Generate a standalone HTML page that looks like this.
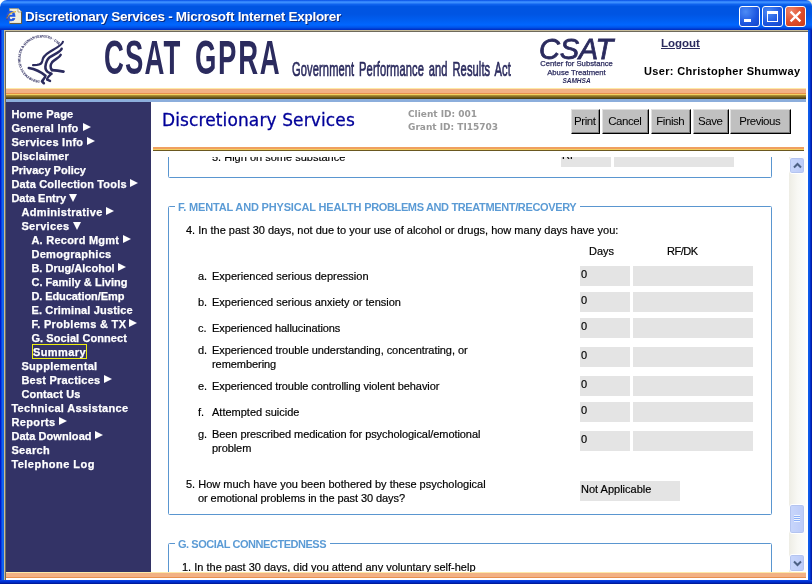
<!DOCTYPE html>
<html><head><meta charset="utf-8"><title>Discretionary Services - Microsoft Internet Explorer</title>
<style>
html,body{margin:0;padding:0}
body{width:812px;height:584px;position:relative;overflow:hidden;background:#fff;font-family:"Liberation Sans",Arial,sans-serif;font-size:11px;color:#000}
div,i,span,a{position:absolute;box-sizing:border-box}
.frame{left:0;top:0;width:812px;height:584px;background:linear-gradient(90deg,#0019cc 0,#0019cc 1px,#0a44e0 1px,#0a44e0 2px,#1466f0 2px,#1060ec 4px,#0a47d8 4px,#0a47d8 808px,#1060ec 808px,#0a50e6 810px,#0030cc 810px,#0030cc 811px,#001eaa 811px)}
.fbot{left:0;top:580px;width:812px;height:4px;background:linear-gradient(#0a3ede 0,#0a3ede 1px,#0032d4 1px,#0032d4 2px,#0028c0 2px,#0028c0 3px,#001a9c 3px)}
.tb{left:0;top:0;width:812px;height:30px;border-radius:7px 6px 0 0;background:linear-gradient(#0047e0 0,#2f80fb 1.2px,#3b8efe 2.5px,#0e62ee 4.5px,#0055e2 6.5px,#0055e3 14px,#005ef0 20px,#0066ff 25px,#0052e8 27.5px,#0034c8 29.3px,#002cc0 30px)}
.cornerL{left:0;top:0;width:8px;height:8px;background:#fff}
.cornerR{right:0;top:0;width:8px;height:8px;background:#f3f0dc}
.title{left:25px;top:8.5px;color:#fff;font-weight:bold;font-size:13.5px;white-space:nowrap;text-shadow:1px 1px 0 #0a2a80;letter-spacing:-0.27px}
.client{left:4px;top:30px;width:804px;height:550px;background:#fff;border-left:1px solid #c8bd9a;border-top:1px solid #c8bd9a}
.client2{left:5px;top:31px;width:803px;height:549px;background:#fff;border-left:1px solid #6f6a5c;border-top:1px solid #6f6a5c}
.wb{top:6px;width:21px;height:21px;border:1px solid #fff;border-radius:3px;background:radial-gradient(circle at 30% 25%,#4d8cf5,#1c56e0 60%,#1445c8)}
.wb.x{background:radial-gradient(circle at 25% 20%,#ee8468,#de4c2a 55%,#c83c18)}
.stripe{left:6px;top:88px;width:800px;height:14px;background:linear-gradient(#fde9a8 0,#fde9a8 1px,#f2b184 1px,#f2b184 5px,#e88f4d 5px,#e88f4d 6px,#f2d060 6px,#f2d060 7px,#b89838 7px,#7a6420 9px,#403410 11px,#8caedc 11px,#8caedc 14px)}
.side{left:6px;top:102px;width:145px;height:470px;background:#333366}
.ni{color:#fff;font-weight:bold;font-size:11px;line-height:14px;white-space:nowrap;letter-spacing:0.12px;-webkit-text-stroke:0.25px #fff}
.selbox{border:1px solid #eeee10}
.ar{width:0;height:0;border-left:8.5px solid #fff;border-top:4.5px solid transparent;border-bottom:4.5px solid transparent;margin-top:-1px}
.ad{width:0;height:0;border-top:8px solid #fff;border-left:4.2px solid transparent;border-right:4.2px solid transparent;margin:-1px 0 0 -0.3px}
.h1{left:162px;top:110.3px;letter-spacing:0.12px;-webkit-text-stroke:0.3px #000099;font-family:"DejaVu Sans","Liberation Sans",sans-serif;font-size:17px;color:#000099;white-space:nowrap}
.ids{left:408px;font-family:"DejaVu Sans","Liberation Sans",sans-serif;font-weight:bold;font-size:9px;color:#999;white-space:nowrap}
.btn{top:109px;height:25px;background:#c0c0c0;border:1px solid;border-color:#e0e0e0 #000 #000 #e0e0e0;box-shadow:inset -1px -1px 0 #808080;font-size:11.5px;letter-spacing:-0.45px;text-align:center;line-height:22px;white-space:nowrap;padding-right:1.5px}
.stripe2{left:153px;top:147px;width:651px;height:4px;background:linear-gradient(#f0a060 0,#f0a060 2px,#f2d060 2px,#f2d060 3px,#6a5820 3px,#6a5820 4px)}
.view{left:153px;top:157px;width:636px;height:415px;overflow:hidden;background:#fff}
.fs{border:1px solid #5a96d0;border-radius:1.5px}
.lg{color:#5b9bd5;font-weight:bold;font-size:11px;background:#fff;padding:0 4px 0 3px;white-space:nowrap;line-height:13px;letter-spacing:-0.26px}
.t{font-size:11px;line-height:14px;white-space:nowrap;-webkit-text-stroke:0.18px #000}
.inp{height:20px;background:#e4e4e4;font-size:11px;line-height:14px;padding:1px 0 0 1px;white-space:nowrap;-webkit-text-stroke:0.18px #000}
.sb{left:789px;top:157px;width:17px;height:415px;background:linear-gradient(90deg,#eeede5,#f8f8f4 50%,#fdfdfb)}
.sbtn{left:0px;width:16px;border:1px solid #fff;border-radius:3px;background:linear-gradient(90deg,#c8d6fb,#bccbf8);box-shadow:0 0 0 1px #b4c4f0 inset}
.bstripe{left:6px;top:572px;width:800px;height:6px;background:linear-gradient(#fde9a8 0,#fde9a8 1px,#f2b184 1px,#f2b184 5px,#e88f4d 5px,#e88f4d 6px)}
</style></head><body>
<div class="frame"></div><div class="fbot"></div>
<div class="cornerL"></div><div class="cornerR"></div>
<div class="tb"></div>
<svg style="position:absolute;left:5px;top:7px" width="19" height="18" viewBox="0 0 19 18"><path d="M4.5 1.5h8.6l3.4 3.4v11.5h-12z" fill="#f1eee0" stroke="#a09878" stroke-width="0.8"/><path d="M16.6 4.6v12h-12" fill="none" stroke="#5e563e" stroke-width="1"/><path d="M13 1.5v3.5h3.5" fill="#fff" stroke="#8a8468" stroke-width=".7"/><text x="1" y="13.6" font-family="Liberation Sans,sans-serif" font-weight="bold" font-size="17.5" fill="#2458e0" stroke="#2458e0" stroke-width="0.5">e</text><path d="M1.6 11.5 Q4 5.2 11 4.6" fill="none" stroke="#e8b838" stroke-width="1.1"/><path d="M2 12.8 Q1.2 10 3.4 7.6" fill="none" stroke="#3a3a80" stroke-width="0.9"/></svg>
<div class="title">Discretionary Services - Microsoft Internet Explorer</div>
<div class="wb" style="left:739px"><i style="position:absolute;left:4px;top:12px;width:7px;height:3px;background:#fff"></i></div>
<div class="wb" style="left:762px"><i style="position:absolute;left:4px;top:4px;width:11px;height:11px;border:1px solid #fff;border-top-width:3px"></i></div>
<div class="wb x" style="left:785px"><svg style="position:absolute;left:3px;top:3px" width="13" height="13" viewBox="0 0 13 13"><path d="M1.6 1.6l9.8 9.8M11.4 1.6l-9.8 9.8" stroke="#fff" stroke-width="2.2" fill="none"/></svg></div>
<div class="client"></div><div class="client2"></div>

<!-- header -->
<svg style="position:absolute;left:10px;top:32px" width="60" height="58" viewBox="0 0 604 584">
<defs><path id="arc" d="M 299 489 A 218 218 0 1 1 520 180"/></defs>
<text font-family="Liberation Serif,serif" font-weight="bold" font-size="35" fill="#2b2b5e" stroke="#2b2b5e" stroke-width="0.8"><textPath href="#arc" textLength="850" lengthAdjust="spacingAndGlyphs">DEPARTMENT OF HEALTH &amp; HUMAN SERVICES · USA</textPath></text>
<g fill="none" stroke="#2b2b5e" stroke-width="30" stroke-linecap="round" stroke-linejoin="round" transform="translate(141,40.3) scale(0.9324)">
<path d="M420 62 C418 95 330 140 272 175 C215 208 202 235 197 270 C192 300 165 310 140 312 L98 314" stroke-width="24"/>
<path d="M406 138 C395 172 320 198 277 230 C245 255 236 290 231 330 C229 360 245 385 275 398 L296 407" stroke-width="28"/>
<path d="M396 204 C385 236 330 250 304 282 C282 312 284 345 302 368" stroke-width="27"/>
<path d="M302 368 C340 370 385 376 426 384" stroke-width="30"/>
<path d="M52 345 C110 355 180 385 232 428 C228 455 200 475 194 490 L214 510" stroke-width="28"/>
<path d="M292 412 C265 435 247 455 250 472 L281 485" stroke-width="26"/>
</g></svg>
<div id="gpra" style="left:104px;top:30px;font-size:48.5px;line-height:54px;color:#2b2b5e;white-space:nowrap;transform-origin:0 0;transform:scaleX(0.567);letter-spacing:2px;font-weight:bold">CSAT</div>
<div id="gpra1" style="left:195px;top:30px;font-size:48.5px;line-height:54px;color:#2b2b5e;white-space:nowrap;transform-origin:0 0;transform:scaleX(0.567);letter-spacing:3px;font-weight:bold">GPRA</div>
<div id="gpra2" style="left:291.5px;top:57px;font-size:21px;line-height:24px;color:#2b2b5e;white-space:nowrap;transform-origin:0 0;transform:scaleX(0.53);word-spacing:3px;-webkit-text-stroke:0.7px #2b2b5e;letter-spacing:0.2px">Government Performance and Results Act</div>
<div id="csat" style="left:539px;top:31.5px;font-size:29px;line-height:34px;font-style:italic;color:#2b2b5e;white-space:nowrap;-webkit-text-stroke:0.8px #2b2b5e;letter-spacing:-0.3px">CSAT</div>
<div id="c1" style="left:539px;top:58.5px;width:75px;text-align:center;font-size:7.7px;line-height:10px;color:#2b2b5e;white-space:nowrap;-webkit-text-stroke:0.25px #2b2b5e;letter-spacing:0"><span id="c1s" style="position:static">Center for Substance</span></div>
<div id="c2" style="left:539px;top:67.5px;width:75px;text-align:center;font-size:7.7px;line-height:10px;color:#2b2b5e;white-space:nowrap;-webkit-text-stroke:0.25px #2b2b5e;letter-spacing:0"><span id="c2s" style="position:static">Abuse Treatment</span></div>
<div id="c3" style="left:539px;top:76px;width:75px;text-align:center;font-size:6.5px;line-height:9px;color:#2b2b5e;white-space:nowrap;font-weight:bold;font-style:italic"><span id="c3s" style="position:static">SAMHSA</span></div>
<a id="logout" style="left:661px;top:36px;font-size:11.5px;line-height:14px;font-weight:bold;color:#2b2b5e;text-decoration:underline;white-space:nowrap">Logout</a>
<div id="user" style="left:644px;top:64px;font-size:11px;line-height:14px;font-weight:bold;white-space:nowrap;letter-spacing:0.34px">User: Christopher Shumway</div>
<div class="stripe"></div>

<!-- sidebar -->
<div class="side"></div>
<div class="ni" style="top:107px;left:11.4px;letter-spacing:0.242px">Home Page</div>
<div class="ni" style="top:121px;left:11.4px;letter-spacing:0.251px">General Info</div><i class="ar" style="left:82.7px;top:124px"></i>
<div class="ni" style="top:135px;left:11.4px;letter-spacing:0.263px">Services Info</div><i class="ar" style="left:87.3px;top:138px"></i>
<div class="ni" style="top:149px;left:11.4px;letter-spacing:0.194px">Disclaimer</div>
<div class="ni" style="top:163px;left:11.4px;letter-spacing:-0.001px">Privacy Policy</div>
<div class="ni" style="top:177px;left:11.4px;letter-spacing:0.174px">Data Collection Tools</div><i class="ar" style="left:130.1px;top:180px"></i>
<div class="ni" style="top:191px;left:11.4px;letter-spacing:-0.033px">Data Entry</div><i class="ad" style="left:69.7px;top:195px"></i>
<div class="ni" style="top:205px;left:21.4px;letter-spacing:0.348px">Administrative</div><i class="ar" style="left:106.3px;top:208px"></i>
<div class="ni" style="top:219px;left:21.4px;letter-spacing:0.342px">Services</div><i class="ad" style="left:73.4px;top:223px"></i>
<div class="ni" style="top:233px;left:31.4px;letter-spacing:0.254px">A. Record Mgmt</div><i class="ar" style="left:123.3px;top:236px"></i>
<div class="ni" style="top:247px;left:31.4px;letter-spacing:0.307px">Demographics</div>
<div class="ni" style="top:261px;left:31.4px;letter-spacing:0.013px">B. Drug/Alcohol</div><i class="ar" style="left:118.3px;top:264px"></i>
<div class="ni" style="top:275px;left:31.4px;letter-spacing:0.047px">C. Family &amp; Living</div>
<div class="ni" style="top:289px;left:31.4px;letter-spacing:-0.077px">D. Education/Emp</div>
<div class="ni" style="top:303px;left:31.4px;letter-spacing:0.156px">E. Criminal Justice</div>
<div class="ni" style="top:317px;left:31.4px;letter-spacing:0.315px">F. Problems &amp; TX</div><i class="ar" style="left:129.4px;top:320px"></i>
<div class="ni" style="top:331px;left:31.4px;letter-spacing:0.086px">G. Social Connect</div>
<div class="selbox" style="left:32px;top:344.3px;width:55px;height:15.2px"></div>
<div class="ni" style="top:345px;left:33.0px;letter-spacing:0.408px">Summary</div>
<div class="ni" style="top:359px;left:21.4px;letter-spacing:0.331px">Supplemental</div>
<div class="ni" style="top:373px;left:21.4px;letter-spacing:0.227px">Best Practices</div><i class="ar" style="left:104.3px;top:376px"></i>
<div class="ni" style="top:387px;left:21.4px;letter-spacing:0.104px">Contact Us</div>
<div class="ni" style="top:401px;left:11.4px;letter-spacing:0.321px">Technical Assistance</div>
<div class="ni" style="top:415px;left:11.4px;letter-spacing:0.377px">Reports</div><i class="ar" style="left:59.2px;top:418px"></i>
<div class="ni" style="top:429px;left:11.4px;letter-spacing:0.057px">Data Download</div><i class="ar" style="left:95.2px;top:432px"></i>
<div class="ni" style="top:443px;left:11.4px;letter-spacing:0.316px">Search</div>
<div class="ni" style="top:457px;left:11.4px;letter-spacing:0.469px">Telephone Log</div>

<!-- page heading -->
<div class="h1" id="h1">Discretionary Services</div>
<div class="ids" id="id1" style="top:108.5px">Client ID: 001</div>
<div class="ids" id="id2" style="top:121.5px">Grant ID: TI15703</div>
<div class="btn" style="left:571px;width:29px">Print</div>
<div class="btn" style="left:602px;width:47px">Cancel</div>
<div class="btn" style="left:651px;width:40px">Finish</div>
<div class="btn" style="left:693px;width:36px">Save</div>
<div class="btn" style="left:730px;width:61px">Previous</div>
<div class="stripe2"></div>

<!-- scrolling view: coordinates inside are page coords minus (153,157) -->
<div class="view"><div style="left:-153px;top:-157px;width:812px;height:584px">
<div class="fs" style="left:168px;top:100px;width:604px;height:78px"></div>
<div class="t" style="left:212px;top:150px">5. High on some substance</div>
<div class="inp" style="left:561px;top:147px;width:50px">RF</div><div class="inp" style="left:614px;top:147px;width:120px"></div>

<div class="fs" style="left:168px;top:206px;width:604px;height:309px"></div>
<div class="lg" id="lgF" style="left:175px;top:200.7px"><span style="position:static;letter-spacing:-0.17px">F. MENTAL AND PHYSICAL HEALTH </span><span style="position:static;letter-spacing:-0.36px">PROBLEMS AND TREATMENT/RECOVERY</span></div>
<div class="t" id="q4" style="left:186px;top:223px">4. In the past 30 days, not due to your use of alcohol or drugs, how many days have you:</div>
<div class="t" style="left:589px;top:244px">Days</div><div class="t" style="left:667px;top:244px;letter-spacing:-0.5px">RF/DK</div>
<div class="t" style="left:198px;top:269px">a.</div><div class="t" style="left:212px;top:269px;letter-spacing:0px">Experienced serious depression</div><div class="inp" style="left:580px;top:266px;width:50px">0</div><div class="inp" style="left:633px;top:266px;width:120px"></div>
<div class="t" style="left:198px;top:295px">b.</div><div class="t" style="left:212px;top:295px;letter-spacing:0px">Experienced serious anxiety or tension</div><div class="inp" style="left:580px;top:292px;width:50px">0</div><div class="inp" style="left:633px;top:292px;width:120px"></div>
<div class="t" style="left:198px;top:321px">c.</div><div class="t" style="left:212px;top:321px;letter-spacing:-0.1px">Experienced hallucinations</div><div class="inp" style="left:580px;top:318px;width:50px">0</div><div class="inp" style="left:633px;top:318px;width:120px"></div>
<div class="t" style="left:198px;top:343px">d.</div><div class="t" style="left:212px;top:343px;letter-spacing:-0.06px">Experienced trouble understanding, concentrating, or<br>remembering</div><div class="inp" style="left:580px;top:347px;width:50px">0</div><div class="inp" style="left:633px;top:347px;width:120px"></div>
<div class="t" style="left:198px;top:379px">e.</div><div class="t" style="left:212px;top:379px;letter-spacing:-0.08px">Experienced trouble controlling violent behavior</div><div class="inp" style="left:580px;top:376px;width:50px">0</div><div class="inp" style="left:633px;top:376px;width:120px"></div>
<div class="t" style="left:198px;top:405px">f.</div><div class="t" style="left:212px;top:405px;letter-spacing:0px">Attempted suicide</div><div class="inp" style="left:580px;top:402px;width:50px">0</div><div class="inp" style="left:633px;top:402px;width:120px"></div>
<div class="t" style="left:198px;top:427px">g.</div><div class="t" style="left:212px;top:427px;letter-spacing:-0.07px">Been prescribed medication for psychological/emotional<br>problem</div><div class="inp" style="left:580px;top:431px;width:50px">0</div><div class="inp" style="left:633px;top:431px;width:120px"></div>
<div class="t" style="left:186px;top:477px">5. How much have you been bothered by these psychological<br><span style="position:static;padding-left:12px;letter-spacing:-0.08px">or emotional problems in the past 30 days?</span></div>
<div class="inp" style="left:580px;top:481px;width:100px">Not Applicable</div>

<div class="fs" style="left:168px;top:543px;width:604px;height:100px"></div>
<div class="lg" id="lgG" style="left:175px;top:537.7px;letter-spacing:-0.46px">G. SOCIAL CONNECTEDNESS</div>
<div class="t" style="left:182px;top:560px">1. In the past 30 days, did you attend any voluntary self-help</div>
</div></div>

<!-- scrollbar -->
<div class="sb">
<div class="sbtn" style="top:0.3px;height:16.4px"><svg style="position:absolute;left:2.5px;top:3.5px" width="9" height="7" viewBox="0 0 9 7"><path d="M1 5.5L4.5 2 8 5.5" fill="none" stroke="#4d6185" stroke-width="2"/></svg></div>
<div class="sbtn" style="top:346.7px;height:30.2px"><i style="position:absolute;left:4px;top:10px;width:6px;height:7px;background:linear-gradient(#eef4fe 0,#eef4fe 1px,#8cb0f8 1px,#8cb0f8 2px)0 0/6px 2px"></i></div>
<div class="sbtn" style="top:397.3px;height:18.2px"><svg style="position:absolute;left:2.5px;top:5px" width="9" height="7" viewBox="0 0 9 7"><path d="M1 1.5L4.5 5 8 1.5" fill="none" stroke="#4d6185" stroke-width="2"/></svg></div>
</div>
<div class="bstripe"></div>
</body></html>
